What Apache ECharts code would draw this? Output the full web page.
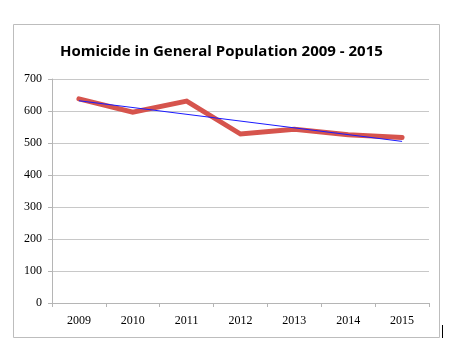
<!DOCTYPE html>
<html>
<head>
<meta charset="utf-8">
<script src="https://cdn.jsdelivr.net/npm/echarts@6/dist/echarts.min.js"></script>
<style>
	html, body { margin: 0; padding: 0; background: #fff; }
	#main { width: 463px; height: 354px; }
</style>
</head>
<body>
<div id="main"></div>
<script>
	var years = ['2009', '2010', '2011', '2012', '2013', '2014', '2015'];
	var homicides = [638, 596, 631, 528, 543, 526, 517];
	var trend = [632, null, null, null, null, null, 505];
	var yTicks = { min: 0, max: 700, interval: 100 };

	var chart = echarts.init(document.getElementById('main'));
	chart.setOption({
		animation: false,
		backgroundColor: '#fff',
		title: {
			text: 'Homicide in General Population 2009 - 2015',
			left: 55, top: 39,
			textStyle: { fontFamily: 'Open Sans', fontWeight: 'bold', fontSize: 15, color: '#000' }
		},
		graphic: [
			{ type: 'rect', shape: { x: 13.5, y: 24.5, width: 426, height: 313 },
				style: { fill: null, stroke: '#bdbdbd', lineWidth: 1 }, silent: true },
			{ type: 'line', shape: { x1: 442.5, y1: 325, x2: 442.5, y2: 338 },
				style: { stroke: '#000', lineWidth: 1 }, silent: true }
		],
		grid: { left: 52, right: 34, top: 79, bottom: 51, containLabel: false },
		xAxis: {
			type: 'category', data: years, boundaryGap: true,
			axisLine: { lineStyle: { color: '#b5b5b5', width: 1 } },
			axisTick: { show: true, length: 4, lineStyle: { color: '#b5b5b5' } },
			axisLabel: { color: '#000', fontFamily: 'Liberation Serif', fontSize: 12, margin: 12 }
		},
		yAxis: {
			type: 'value', min: yTicks.min, max: yTicks.max, interval: yTicks.interval,
			axisLine: { show: true, lineStyle: { color: '#b5b5b5', width: 1 } },
			axisTick: { show: true, length: 4, lineStyle: { color: '#b5b5b5' } },
			splitLine: { lineStyle: { color: '#c8c8c8', width: 1 } },
			axisLabel: { color: '#000', fontFamily: 'Liberation Serif', fontSize: 12, margin: 10 }
		},
		series: [
			{
				type: 'line', data: homicides, symbol: 'none',
				lineStyle: { color: '#d6544d', width: 5, cap: 'round', join: 'miter' }
			},
			{
				type: 'line', data: trend, symbol: 'none', connectNulls: true,
				lineStyle: { color: '#1a1aff', width: 1 }
			}
		]
	});
</script>
</body>
</html>
